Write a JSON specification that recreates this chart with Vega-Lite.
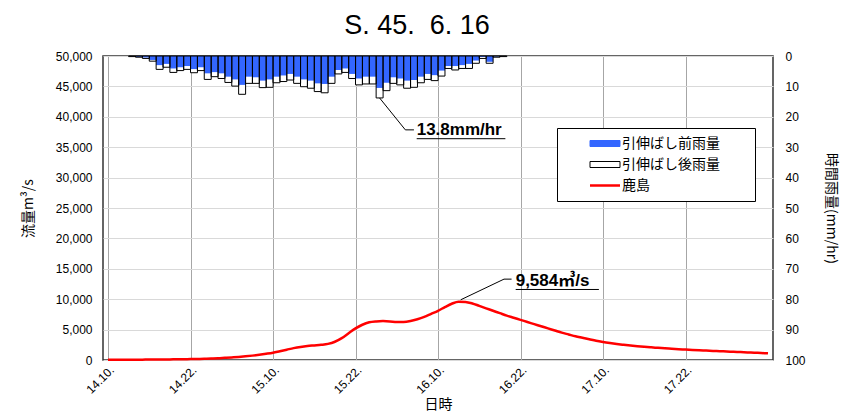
{
  "$schema": "https://vega.github.io/schema/vega-lite/v6.json",
  "width": 670,
  "height": 304,
  "autosize": {"type": "none"},
  "padding": {"left": 103, "top": 56, "right": 83, "bottom": 56},
  "background": "white",
  "config": {
    "view": {"stroke": "#333333", "strokeWidth": 1.5},
    "axis": {
      "domain": false,
      "ticks": false,
      "labelFont": "Liberation Sans",
      "labelFontSize": 12,
      "labelColor": "black",
      "titleFont": "Noto Sans CJK JP",
      "titleFontSize": 14,
      "titleFontWeight": "normal",
      "titleColor": "black"
    }
  },
  "title": {
    "text": "S.\u00a045.\u00a0\u00a06.\u00a016",
    "font": "Liberation Sans",
    "fontSize": 27,
    "fontWeight": "normal",
    "color": "black",
    "anchor": "middle",
    "dx": -21,
    "offset": 10
  },
  "datasets": {
    "rain": [
      {"h": 3, "pre": 0.1, "post": 0.2}, {"h": 4, "pre": 0.3, "post": 0.4},
      {"h": 5, "pre": 0.5, "post": 0.8}, {"h": 6, "pre": 1.3, "post": 1.7},
      {"h": 7, "pre": 3.0, "post": 4.4}, {"h": 8, "pre": 2.6, "post": 3.7},
      {"h": 9, "pre": 4.1, "post": 5.4}, {"h": 10, "pre": 3.7, "post": 4.8},
      {"h": 11, "pre": 3.3, "post": 4.4}, {"h": 12, "pre": 4.3, "post": 5.5},
      {"h": 13, "pre": 3.7, "post": 4.8}, {"h": 14, "pre": 5.7, "post": 7.7},
      {"h": 15, "pre": 5.3, "post": 6.8}, {"h": 16, "pre": 5.7, "post": 7.4},
      {"h": 17, "pre": 6.8, "post": 8.7}, {"h": 18, "pre": 7.7, "post": 9.9},
      {"h": 19, "pre": 9.5, "post": 12.6}, {"h": 20, "pre": 6.8, "post": 9.0},
      {"h": 21, "pre": 7.0, "post": 9.0}, {"h": 22, "pre": 8.1, "post": 10.4},
      {"h": 23, "pre": 7.7, "post": 10.3}, {"h": 24, "pre": 6.8, "post": 8.8},
      {"h": 25, "pre": 6.4, "post": 8.4}, {"h": 26, "pre": 5.9, "post": 7.9},
      {"h": 27, "pre": 6.8, "post": 9.0}, {"h": 28, "pre": 7.7, "post": 10.1},
      {"h": 29, "pre": 8.1, "post": 10.6}, {"h": 30, "pre": 9.0, "post": 11.7},
      {"h": 31, "pre": 9.2, "post": 12.1}, {"h": 32, "pre": 6.8, "post": 9.0},
      {"h": 33, "pre": 4.6, "post": 5.9}, {"h": 34, "pre": 4.1, "post": 5.4},
      {"h": 35, "pre": 5.9, "post": 7.4}, {"h": 36, "pre": 7.4, "post": 9.5},
      {"h": 37, "pre": 6.8, "post": 9.2}, {"h": 38, "pre": 6.8, "post": 9.2},
      {"h": 39, "pre": 10.5, "post": 13.8}, {"h": 40, "pre": 8.8, "post": 11.4},
      {"h": 41, "pre": 7.0, "post": 9.0}, {"h": 42, "pre": 7.4, "post": 9.5},
      {"h": 43, "pre": 8.1, "post": 10.6}, {"h": 44, "pre": 7.9, "post": 10.3},
      {"h": 45, "pre": 6.8, "post": 8.8}, {"h": 46, "pre": 5.9, "post": 7.7},
      {"h": 47, "pre": 6.3, "post": 8.1}, {"h": 48, "pre": 4.8, "post": 6.6},
      {"h": 49, "pre": 3.3, "post": 4.1}, {"h": 50, "pre": 3.3, "post": 4.6},
      {"h": 51, "pre": 3.0, "post": 4.1}, {"h": 52, "pre": 2.6, "post": 4.1},
      {"h": 53, "pre": 1.5, "post": 2.4}, {"h": 54, "pre": 0.3, "post": 0.8},
      {"h": 55, "pre": 1.9, "post": 2.4}, {"h": 56, "pre": 0.2, "post": 0.4},
      {"h": 57, "pre": 0.1, "post": 0.2}
    ],
    "flow": [
      {"h": 0, "q": 50}, {"h": 1, "q": 50}, {"h": 2, "q": 50}, {"h": 3, "q": 50},
      {"h": 4, "q": 60}, {"h": 5, "q": 60}, {"h": 6, "q": 70}, {"h": 7, "q": 80},
      {"h": 8, "q": 90}, {"h": 9, "q": 100}, {"h": 10, "q": 110}, {"h": 11, "q": 130},
      {"h": 12, "q": 150}, {"h": 13, "q": 170}, {"h": 14, "q": 200}, {"h": 15, "q": 240},
      {"h": 16, "q": 290}, {"h": 17, "q": 350}, {"h": 18, "q": 420}, {"h": 19, "q": 500},
      {"h": 20, "q": 600}, {"h": 21, "q": 720}, {"h": 22, "q": 860}, {"h": 23, "q": 1020},
      {"h": 24, "q": 1200}, {"h": 25, "q": 1450}, {"h": 26, "q": 1700}, {"h": 27, "q": 1950},
      {"h": 28, "q": 2150}, {"h": 29, "q": 2300}, {"h": 30, "q": 2400}, {"h": 31, "q": 2500},
      {"h": 32, "q": 2650}, {"h": 33, "q": 3000}, {"h": 34, "q": 3600}, {"h": 35, "q": 4400},
      {"h": 36, "q": 5200}, {"h": 37, "q": 5800}, {"h": 38, "q": 6200}, {"h": 39, "q": 6350},
      {"h": 40, "q": 6400}, {"h": 41, "q": 6350}, {"h": 42, "q": 6250}, {"h": 43, "q": 6250},
      {"h": 44, "q": 6400}, {"h": 45, "q": 6700}, {"h": 46, "q": 7100}, {"h": 47, "q": 7600},
      {"h": 48, "q": 8100}, {"h": 49, "q": 8700}, {"h": 50, "q": 9250}, {"h": 51, "q": 9584},
      {"h": 52, "q": 9550}, {"h": 53, "q": 9300}, {"h": 54, "q": 8900}, {"h": 55, "q": 8500},
      {"h": 56, "q": 8100}, {"h": 57, "q": 7700}, {"h": 58, "q": 7300}, {"h": 59, "q": 6950},
      {"h": 60, "q": 6600}, {"h": 61, "q": 6250}, {"h": 62, "q": 5900}, {"h": 63, "q": 5550},
      {"h": 64, "q": 5200}, {"h": 65, "q": 4850}, {"h": 66, "q": 4500}, {"h": 67, "q": 4200},
      {"h": 68, "q": 3900}, {"h": 69, "q": 3650}, {"h": 70, "q": 3400}, {"h": 71, "q": 3150},
      {"h": 72, "q": 2950}, {"h": 73, "q": 2780}, {"h": 74, "q": 2630}, {"h": 75, "q": 2500},
      {"h": 76, "q": 2380}, {"h": 77, "q": 2270}, {"h": 78, "q": 2170}, {"h": 79, "q": 2080},
      {"h": 80, "q": 2000}, {"h": 81, "q": 1920}, {"h": 82, "q": 1850}, {"h": 83, "q": 1780},
      {"h": 84, "q": 1720}, {"h": 85, "q": 1660}, {"h": 86, "q": 1600}, {"h": 87, "q": 1550},
      {"h": 88, "q": 1500}, {"h": 89, "q": 1450}, {"h": 90, "q": 1400}, {"h": 91, "q": 1350},
      {"h": 92, "q": 1300}, {"h": 93, "q": 1250}, {"h": 94, "q": 1200}, {"h": 95, "q": 1150},
      {"h": 96, "q": 1100}
    ],
    "rainSeg": [
      {"h": 39.5, "v": 13.8, "h2": 43.25, "v2": 24.3},
      {"h": 43.25, "v": 24.3, "h2": 44.5, "v2": 24.3},
      {"h": 44.9, "v": 27.2, "h2": 57.8, "v2": 27.2}
    ],
    "rainText": [{"h": 44.9, "v": 26.0, "label": "13.8mm/hr"}],
    "flowSeg": [
      {"h": 51.3, "q": 9900, "h2": 57.6, "q2": 13300},
      {"h": 57.6, "q": 13300, "h2": 58.7, "q2": 13300},
      {"h": 59.3, "q": 11600, "h2": 71.4, "q2": 11600}
    ],
    "flowText": [{"h": 59.3, "q": 12200, "label": "9,584㎥/s"}]
  },
  "layer": [
    {
      "data": {"name": "rain"},
      "layer": [
        {
          "mark": {"type": "bar", "width": 6.975, "xOffset": 3.4875, "strokeWidth": 0},
          "encoding": {
            "x": {
              "field": "h", "type": "quantitative",
              "scale": {"domain": [0, 96], "nice": false, "zero": false},
              "axis": {
                "values": [0, 12, 24, 36, 48, 60, 72, 84],
                "labelExpr": "['14.10.','14.22.','15.10.','15.22.','16.10.','16.22.','17.10.','17.22.'][datum.value/12]",
                "labelAngle": -45,
                "labelPadding": 4,
                "grid": true,
                "gridColor": "#a6a6a6",
                "gridWidth": 1,
                "title": "日時",
                "titlePadding": 2
              }
            },
            "y": {
              "field": "post", "type": "quantitative",
              "scale": {"domain": [0, 100], "reverse": true, "nice": false},
              "axis": {
                "orient": "right",
                "values": [0, 10, 20, 30, 40, 50, 60, 70, 80, 90, 100],
                "labelOverlap": false,
                "grid": false,
                "labelPadding": 12,
                "titlePadding": 18,
                "title": "時間雨量(mm/hr)"
              }
            },
            "fill": {
              "datum": "引伸ばし後雨量", "type": "nominal",
              "scale": {
                "domain": ["引伸ばし前雨量", "引伸ばし後雨量", "鹿島"],
                "range": ["#3366ff", "#ffffff", "#ff0000"]
              },
              "legend": {
                "title": null,
                "orient": "none",
                "legendX": 454,
                "legendY": 72,
                "strokeColor": "black",
                "fillColor": "white",
                "padding": 5,
                "symbolSize": 900,
                "symbolOffset": 36,
                "labelOffset": 10,
                "labelLimit": 400,
                "clipHeight": 21,
                "rowPadding": 0,
                "labelFont": "Noto Sans CJK JP",
                "labelFontSize": 14,
                "labelColor": "black",
                "encode": {
                  "labels": {
                    "update": {
                      "text": {"signal": "datum.label + '\u2800\u2800\u2800'"}
                    }
                  },
                  "symbols": {
                    "update": {
                      "shape": {"signal": "datum.value === '鹿島' ? 'M-1,0H1' : 'M-1,-0.2H1V0.2H-1Z'"},
                      "stroke": {"signal": "datum.value === '鹿島' ? '#ff0000' : (datum.value === '引伸ばし後雨量' ? '#000000' : '#3366ff')"},
                      "strokeWidth": {"signal": "datum.value === '鹿島' ? 2.5 : 1"}
                    }
                  }
                }
              }
            }
          }
        },
        {
          "mark": {"type": "bar", "width": 6.975, "xOffset": 3.4875, "strokeWidth": 0},
          "encoding": {
            "x": {"field": "h", "type": "quantitative"},
            "y": {
              "field": "pre", "type": "quantitative",
              "axis": {
                "orient": "right",
                "values": [0, 10, 20, 30, 40, 50, 60, 70, 80, 90, 100],
                "labelOverlap": false,
                "grid": false,
                "labelPadding": 12,
                "titlePadding": 18,
                "title": "時間雨量(mm/hr)"
              }
            },
            "fill": {"datum": "引伸ばし前雨量", "type": "nominal"}
          }
        },
        {
          "mark": {"type": "bar", "width": 6.975, "xOffset": 3.4875, "fill": "transparent", "stroke": "#000000", "strokeWidth": 1},
          "encoding": {
            "x": {"field": "h", "type": "quantitative"},
            "y": {
              "field": "post", "type": "quantitative",
              "axis": {
                "orient": "right",
                "values": [0, 10, 20, 30, 40, 50, 60, 70, 80, 90, 100],
                "labelOverlap": false,
                "grid": false,
                "labelPadding": 12,
                "titlePadding": 18,
                "title": "時間雨量(mm/hr)"
              }
            }
          }
        },
        {
          "data": {"name": "rainSeg"},
          "mark": {"type": "rule", "color": "#000000", "strokeWidth": 1},
          "encoding": {
            "x": {"field": "h", "type": "quantitative"},
            "x2": {"field": "h2"},
            "y": {
              "field": "v", "type": "quantitative",
              "axis": {
                "orient": "right",
                "values": [0, 10, 20, 30, 40, 50, 60, 70, 80, 90, 100],
                "labelOverlap": false,
                "grid": false,
                "labelPadding": 12,
                "titlePadding": 18,
                "title": "時間雨量(mm/hr)"
              }
            },
            "y2": {"field": "v2"}
          }
        },
        {
          "data": {"name": "rainText"},
          "mark": {"type": "text", "align": "left", "baseline": "alphabetic", "font": "Liberation Sans", "fontSize": 17, "fontWeight": "bold", "color": "#000000"},
          "encoding": {
            "x": {"field": "h", "type": "quantitative"},
            "y": {
              "field": "v", "type": "quantitative",
              "axis": {
                "orient": "right",
                "values": [0, 10, 20, 30, 40, 50, 60, 70, 80, 90, 100],
                "labelOverlap": false,
                "grid": false,
                "labelPadding": 12,
                "titlePadding": 18,
                "title": "時間雨量(mm/hr)"
              }
            },
            "text": {"field": "label"}
          }
        }
      ]
    },
    {
      "data": {"name": "flow"},
      "layer": [
        {
          "mark": {"type": "line", "color": "#ff0000", "strokeWidth": 2.5, "interpolate": "monotone"},
          "encoding": {
            "x": {"field": "h", "type": "quantitative"},
            "y": {
              "field": "q", "type": "quantitative",
              "scale": {"domain": [0, 50000], "nice": false},
              "axis": {
                "orient": "left",
                "values": [0, 5000, 10000, 15000, 20000, 25000, 30000, 35000, 40000, 45000, 50000],
                "format": ",.0f",
                "labelOverlap": false,
                "grid": true,
                "gridColor": "#d9d9d9",
                "labelPadding": 11,
                "titlePadding": 20,
                "title": "流量m³/s"
              }
            }
          }
        },
        {
          "data": {"name": "flowSeg"},
          "mark": {"type": "rule", "color": "#000000", "strokeWidth": 1},
          "encoding": {
            "x": {"field": "h", "type": "quantitative"},
            "x2": {"field": "h2"},
            "y": {
              "field": "q", "type": "quantitative",
              "axis": {
                "orient": "left",
                "values": [0, 5000, 10000, 15000, 20000, 25000, 30000, 35000, 40000, 45000, 50000],
                "format": ",.0f",
                "labelOverlap": false,
                "grid": true,
                "gridColor": "#d9d9d9",
                "labelPadding": 11,
                "titlePadding": 20,
                "title": "流量m³/s"
              }
            },
            "y2": {"field": "q2"}
          }
        },
        {
          "data": {"name": "flowText"},
          "mark": {"type": "text", "align": "left", "baseline": "alphabetic", "font": "Liberation Sans, Noto Sans CJK JP", "fontSize": 17, "fontWeight": "bold", "color": "#000000"},
          "encoding": {
            "x": {"field": "h", "type": "quantitative"},
            "y": {
              "field": "q", "type": "quantitative",
              "axis": {
                "orient": "left",
                "values": [0, 5000, 10000, 15000, 20000, 25000, 30000, 35000, 40000, 45000, 50000],
                "format": ",.0f",
                "labelOverlap": false,
                "grid": true,
                "gridColor": "#d9d9d9",
                "labelPadding": 11,
                "titlePadding": 20,
                "title": "流量m³/s"
              }
            },
            "text": {"field": "label"}
          }
        }
      ]
    }
  ],
  "resolve": {"scale": {"y": "independent"}}
}
